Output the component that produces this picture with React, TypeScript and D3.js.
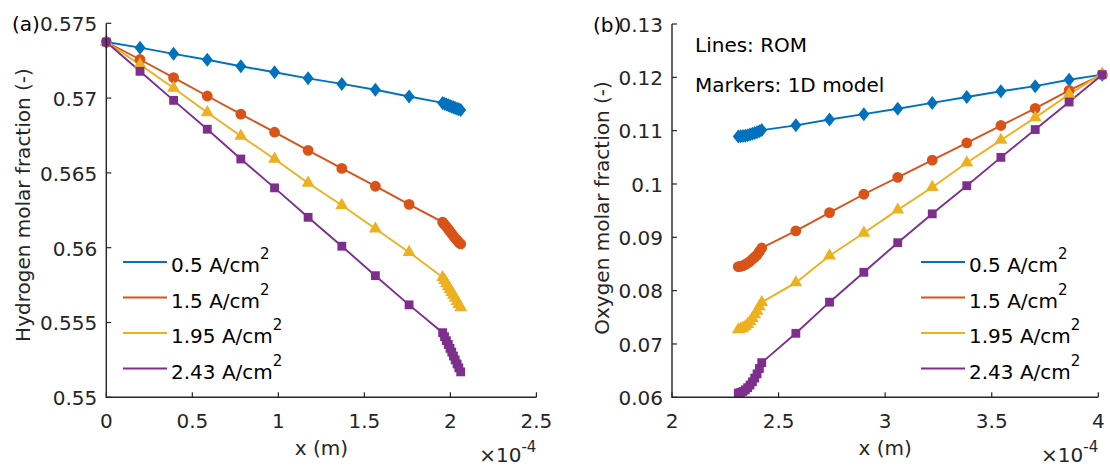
import React from 'react';
import * as d3 from 'd3';

// ---------- data (x in units of 1e-4 m) ----------
const seriesLabels = ['0.5', '1.5', '1.95', '2.43'];
const seriesColors = ['#0072BD', '#D95319', '#EDB120', '#7E2F8E'];
const seriesMarkers = ['diamond', 'circle', 'triangle', 'square'];

// Panel (a): hydrogen molar fraction
const xH = [0, 0.196, 0.391, 0.587, 0.782, 0.978, 1.173, 1.369, 1.564, 1.760, 1.955,
  1.966, 1.977, 1.988, 1.998, 2.008, 2.018, 2.028, 2.039, 2.049, 2.06];
const h05 = [0.57375, 0.57337, 0.57296, 0.57256, 0.57213, 0.57173, 0.57132, 0.57095, 0.57056, 0.57011, 0.56968,
  0.56963, 0.56958, 0.56953, 0.56948, 0.56943, 0.56939, 0.56934, 0.56929, 0.56925, 0.56921];
const h15 = [0.57375, 0.57258, 0.57137, 0.57014, 0.56893, 0.56772, 0.56651, 0.5653, 0.56411, 0.5629, 0.56171,
  0.56155, 0.5614, 0.56124, 0.56108, 0.56093, 0.56078, 0.56063, 0.56049, 0.56036, 0.56025];
const h195 = [0.57375, 0.57224, 0.57068, 0.56904, 0.56747, 0.56593, 0.56433, 0.56284, 0.56127, 0.5597, 0.55802,
  0.55782, 0.55761, 0.55741, 0.55722, 0.55702, 0.55683, 0.55663, 0.55642, 0.55621, 0.556];
const h243 = [0.57375, 0.57179, 0.56985, 0.56792, 0.56593, 0.564, 0.56203, 0.5601, 0.55813, 0.55618, 0.55432,
  0.55405, 0.55378, 0.55353, 0.55327, 0.55302, 0.55276, 0.5525, 0.55223, 0.55197, 0.5517];

// Panel (b): oxygen molar fraction
const xO = [2.311, 2.322, 2.333, 2.344, 2.355, 2.366, 2.377, 2.388, 2.399, 2.41, 2.421,
  2.581, 2.739, 2.9, 3.059, 3.221, 3.383, 3.543, 3.704, 3.863, 4.018];
const o05 = [0.1089, 0.10893, 0.10898, 0.10905, 0.10915, 0.10927, 0.1094, 0.10955, 0.1097, 0.10988, 0.1101,
  0.1110, 0.1121, 0.1131, 0.1141, 0.1152, 0.1163, 0.1174, 0.11835, 0.11955, 0.1205];
const o15 = [0.0845, 0.08455, 0.08468, 0.0849, 0.08518, 0.0855, 0.08588, 0.08628, 0.0867, 0.08735, 0.0880,
  0.0912, 0.09464, 0.09808, 0.10125, 0.10448, 0.10771, 0.11096, 0.11419, 0.11755, 0.1205];
const o195 = [0.0727, 0.0728, 0.073, 0.0733, 0.0737, 0.0742, 0.0748, 0.0755, 0.0762, 0.077, 0.0778,
  0.0815, 0.08656, 0.0908, 0.09515, 0.09939, 0.10398, 0.10822, 0.11245, 0.1168, 0.1207];
const o243 = [0.0608, 0.0609, 0.0611, 0.0614, 0.0618, 0.0623, 0.0629, 0.0636, 0.0644, 0.0654, 0.0665,
  0.0720, 0.07784, 0.08344, 0.08899, 0.0944, 0.09968, 0.10499, 0.11021, 0.11537, 0.1205];

// ticks
const xTicksH = [0, 0.5, 1, 1.5, 2, 2.5];
const xTickLabelsH = ['0', '0.5', '1', '1.5', '2', '2.5'];
const yTicksH = [0.55, 0.555, 0.56, 0.565, 0.57, 0.575];
const yTickLabelsH = ['0.55', '0.555', '0.56', '0.565', '0.57', '0.575'];
const xTicksO = [2, 2.5, 3, 3.5, 4];
const xTickLabelsO = ['2', '2.5', '3', '3.5', '4'];
const yTicksO = [0.06, 0.07, 0.08, 0.09, 0.1, 0.11, 0.12, 0.13];
const yTickLabelsO = ['0.06', '0.07', '0.08', '0.09', '0.1', '0.11', '0.12', '0.13'];

const FONT = 'DejaVu Sans, sans-serif';
const AXIS = '#262626';

function markerPath(kind: string): string {
  if (kind === 'diamond') return 'M0,-7L5.5,0L0,7L-5.5,0Z';
  if (kind === 'triangle') return d3.symbol().type(d3.symbolTriangle).size(72)() as string;
  if (kind === 'square') return d3.symbol().type(d3.symbolSquare).size(78)() as string;
  return d3.symbol().type(d3.symbolCircle).size(92)() as string;
}

type PanelProps = {
  xs: number[];
  ys: number[][];
  xDomain: [number, number];
  yDomain: [number, number];
  xRange: [number, number];
  yRange: [number, number];
  xTicks: number[];
  xTickLabels: string[];
  yTicks: number[];
  yTickLabels: string[];
  yLabel: string;
  yLabelX: number;
  yLabelY: number;
  panelTag: string;
  panelTagX: number;
  legendX: number;
  legendRows: number[];
  children?: React.ReactNode;
};

function Panel(p: PanelProps) {
  const x = d3.scaleLinear().domain(p.xDomain).range(p.xRange);
  const y = d3.scaleLinear().domain(p.yDomain).range(p.yRange);
  const x0 = p.xRange[0];
  const x1 = p.xRange[1];
  const yb = p.yRange[0];
  const yt = p.yRange[1];
  const line = d3.line<number>().x((_, i) => x(p.xs[i])).y((d) => y(d));
  const tickLen = 5;
  return (
    <g>
      {/* lines (ROM) */}
      {p.ys.map((s, k) => (
        <path key={'l' + k} d={line(s) as string} fill="none" stroke={seriesColors[k]} strokeWidth={1.9} />
      ))}
      {/* markers (1D model) */}
      {p.ys.map((s, k) => (
        <g key={'m' + k} fill={seriesColors[k]}>
          {s.map((v, i) => (
            <path key={i} d={markerPath(seriesMarkers[k])} transform={`translate(${x(p.xs[i])},${y(v)})`} />
          ))}
        </g>
      ))}
      {/* axes */}
      <path d={`M${x0},${yt}V${yb}H${x1}`} fill="none" stroke={AXIS} strokeWidth={1.4} />
      {p.xTicks.map((t, i) => (
        <g key={'xt' + i}>
          <line x1={x(t)} x2={x(t)} y1={yb} y2={yb - tickLen} stroke={AXIS} strokeWidth={1.2} />
          <text x={x(t)} y={428} textAnchor="middle" fontFamily={FONT} fontSize={20} fill={AXIS}>{p.xTickLabels[i]}</text>
        </g>
      ))}
      {p.yTicks.map((t, i) => (
        <g key={'yt' + i}>
          <line x1={x0} x2={x0 + tickLen} y1={y(t)} y2={y(t)} stroke={AXIS} strokeWidth={1.2} />
          <text x={x0 - 9} y={y(t) + 7.8} textAnchor="end" fontFamily={FONT} fontSize={20} fill={AXIS}>{p.yTickLabels[i]}</text>
        </g>
      ))}
      <text x={p.panelTagX} y={yt + 7.8} fontFamily={FONT} fontSize={20} fill="#000">{p.panelTag}</text>
      <text
        transform={`translate(${p.yLabelX},${p.yLabelY}) rotate(-90)`}
        textAnchor="middle" fontFamily={FONT} fontSize={20} fill={AXIS}
      >{p.yLabel}</text>
      <text x={(x0 + x1) / 2} y={455} textAnchor="middle" fontFamily={FONT} fontSize={20} fill={AXIS}>x (m)</text>
      <text x={x1} y={462} textAnchor="end" fontFamily={FONT} fontSize={20} fill={AXIS}>
        ×10<tspan dy={-10} fontSize={15}>-4</tspan>
      </text>
      {/* legend */}
      {seriesLabels.map((lab, k) => (
        <g key={'lg' + k}>
          <line x1={p.legendX} x2={p.legendX + 44} y1={p.legendRows[k]} y2={p.legendRows[k]} stroke={seriesColors[k]} strokeWidth={1.9} />
          <text x={p.legendX + 48} y={p.legendRows[k] + 10} fontFamily={FONT} fontSize={20} fill="#000">
            {lab + ' A/cm'}<tspan dy={-13} fontSize={15}>2</tspan>
          </text>
        </g>
      ))}
      {p.children}
    </g>
  );
}

export default function App() {
  const rows = [262, 297.5, 333, 368.5];
  return (
    <svg width={1110} height={469} style={{ position: 'absolute', left: 0, top: 0, background: '#fff' }}>
      <rect width={1110} height={469} fill="#fff" />
      <Panel
        xs={xH}
        ys={[h05, h15, h195, h243]}
        xDomain={[0, 2.5]}
        yDomain={[0.55, 0.575]}
        xRange={[106.3, 536.4]}
        yRange={[397.3, 23.3]}
        xTicks={xTicksH}
        xTickLabels={xTickLabelsH}
        yTicks={yTicksH}
        yTickLabels={yTickLabelsH}
        yLabel="Hydrogen molar fraction (-)"
        yLabelX={30}
        yLabelY={205}
        panelTag="(a)"
        panelTagX={12}
        legendX={123}
        legendRows={rows}
      />
      <Panel
        xs={xO}
        ys={[o05, o15, o195, o243]}
        xDomain={[2, 4]}
        yDomain={[0.06, 0.13]}
        xRange={[672, 1098.3]}
        yRange={[397.3, 24]}
        xTicks={xTicksO}
        xTickLabels={xTickLabelsO}
        yTicks={yTicksO}
        yTickLabels={yTickLabelsO}
        yLabel="Oxygen molar fraction (-)"
        yLabelX={609}
        yLabelY={208}
        panelTag="(b)"
        panelTagX={593}
        legendX={921}
        legendRows={rows}
      >
        <text x={695} y={52.3} fontFamily={FONT} fontSize={20} fill="#000">Lines: ROM</text>
        <text x={695} y={92.3} fontFamily={FONT} fontSize={20} fill="#000">Markers: 1D model</text>
      </Panel>
    </svg>
  );
}
